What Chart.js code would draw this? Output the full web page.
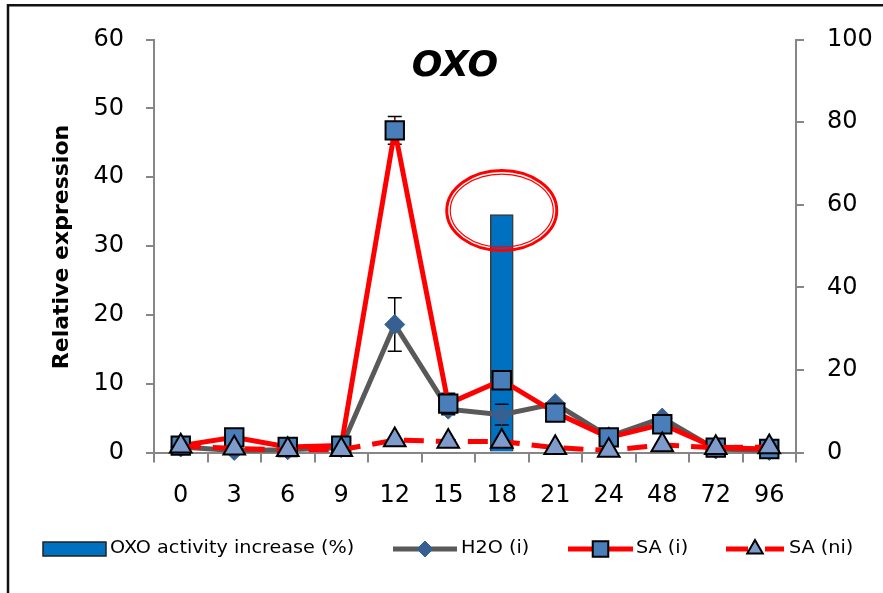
<!DOCTYPE html>
<html>
<head>
<meta charset="utf-8">
<script src="https://cdn.jsdelivr.net/npm/chart.js@4.4.1/dist/chart.umd.min.js"></script>
<style>
  html, body { margin: 0; padding: 0; background: #fff; }
  #wrap { width: 883px; height: 593px; }
</style>
</head>
<body>
<div id="wrap"><canvas id="chart" width="883" height="593"></canvas></div>
<script>
// values
var hours = ['0', '3', '6', '9', '12', '15', '18', '21', '24', '48', '72', '96'];
var oxoActivity = [null, null, null, null, null, null, 57.6, null, null, null, null, null];
var h2o = [0.8, 0.3, 0.4, 0.7, 18.6, 6.3, 5.5, 7.1, 2.3, 5.0, 0.5, 0.3];
var h2oErr = [0, 0, 0, 0, 3.9, 0.8, 1.5, 0, 0, 0, 0, 0];
var sa = [1.0, 2.2, 0.8, 1.0, 46.8, 7.1, 10.5, 5.8, 2.2, 4.1, 0.7, 0.5];
var saErr = [0, 0, 0, 0, 2.0, 1.5, 0, 0, 0, 0, 0, 0];
var saNi = [0.9, 0.6, 0.4, 0.4, 1.8, 1.6, 1.6, 0.7, 0.3, 1.1, 0.7, 0.8];
var leftTicks = [0, 10, 20, 30, 40, 50, 60];
var rightTicks = [0, 20, 40, 60, 80, 100];
var seriesNames = ['OXO activity increase (%)', 'H2O (i)', 'SA (i)', 'SA (ni)'];

var FONT = 'DejaVu Sans';
var AXIS = '#868686';

function drawErrors(chart, values, errs) {
  var ctx = chart.ctx, x = chart.scales.x, y = chart.scales.y;
  ctx.save();
  ctx.strokeStyle = '#000';
  ctx.lineWidth = 1.5;
  values.forEach(function (v, i) {
    if (!errs[i]) return;
    var px = x.getPixelForValue(i);
    var top = y.getPixelForValue(v + errs[i]);
    var bot = y.getPixelForValue(v - errs[i]);
    ctx.beginPath();
    ctx.moveTo(px, top); ctx.lineTo(px, bot);
    ctx.moveTo(px - 7, top); ctx.lineTo(px + 7, top);
    ctx.moveTo(px - 7, bot); ctx.lineTo(px + 7, bot);
    ctx.stroke();
  });
  ctx.restore();
}

// legend text is a little wider than the font, like the original
function wideText(ctx, text, x, y, stretch) {
  ctx.save();
  ctx.translate(x, y);
  ctx.scale(stretch, 1);
  ctx.fillText(text, 0, 0);
  ctx.restore();
}

var decorations = {
  id: 'decorations',
  beforeDraw: function (chart) {
    var ctx = chart.ctx;
    ctx.save();
    ctx.strokeStyle = '#111';
    ctx.lineWidth = 2.5;
    ctx.beginPath();
    ctx.moveTo(8, 593); ctx.lineTo(8, 5.3); ctx.lineTo(883, 5.3);
    ctx.stroke();
    ctx.restore();
  },
  beforeDatasetDraw: function (chart, args) {
    if (args.index === 1) drawErrors(chart, h2o, h2oErr);
    if (args.index === 2) drawErrors(chart, sa, saErr);
  },
  afterDraw: function (chart) {
    var ctx = chart.ctx;
    var x = chart.scales.x, y1 = chart.scales.y1;
    ctx.save();

    // title
    ctx.fillStyle = '#000';
    ctx.textAlign = 'center';
    ctx.textBaseline = 'middle';
    ctx.font = 'italic bold 36px "' + FONT + '"';
    ctx.fillText('OXO', 455, 67);

    // y axis title
    ctx.save();
    ctx.translate(62, 247);
    ctx.rotate(-Math.PI / 2);
    ctx.font = 'bold 22px "' + FONT + '"';
    ctx.fillText('Relative expression', 0, 0);
    ctx.restore();

    // red double ellipse around the bar top
    oxoActivity.forEach(function (v, i) {
      if (v === null) return;
      var cx = x.getPixelForValue(i), cy = y1.getPixelForValue(v) - 4;
      ctx.strokeStyle = '#ff0000';
      ctx.lineWidth = 3;
      ctx.beginPath();
      ctx.ellipse(cx, cy, 55, 40, 0, 0, Math.PI * 2);
      ctx.stroke();
      ctx.lineWidth = 1.2;
      ctx.beginPath();
      ctx.ellipse(cx, cy, 51.5, 36.5, 0, 0, Math.PI * 2);
      ctx.stroke();
    });

    // legend
    var ly = 549;
    var ds = chart.data.datasets;
    ctx.font = '17px "' + FONT + '"';
    ctx.textAlign = 'left';
    ctx.fillStyle = '#0070C0';
    ctx.strokeStyle = '#222';
    ctx.lineWidth = 1.5;
    ctx.fillRect(43, ly - 7, 63, 14);
    ctx.strokeRect(43, ly - 7, 63, 14);
    ctx.fillStyle = '#000';
    wideText(ctx, seriesNames[0], 110, ly, 1.13);

    var items = [[393, 457, 461], [568, 633, 636], [726, 784, 789]];
    items.forEach(function (it, k) {
      var d = ds[k + 1];
      ctx.save();
      ctx.strokeStyle = d.borderColor;
      ctx.lineWidth = 5;
      if (d.borderDash) ctx.setLineDash([22, 17]);
      ctx.beginPath();
      ctx.moveTo(it[0], ly); ctx.lineTo(it[1], ly);
      ctx.stroke();
      ctx.restore();
      ctx.fillStyle = d.pointBackgroundColor;
      ctx.strokeStyle = d.pointBorderColor;
      ctx.lineWidth = d.pointBorderWidth;
      Chart.helpers.drawPoint(ctx, {
        pointStyle: d.pointStyle,
        radius: k === 0 ? 8 : (k === 1 ? 11 : 9),
        borderWidth: d.pointBorderWidth,
        rotation: 0
      }, (it[0] + it[1]) / 2, ly);
      ctx.fillStyle = '#000';
      wideText(ctx, seriesNames[k + 1], it[2], ly, 1.13);
    });

    ctx.restore();
  }
};

var tickFont = { family: FONT, size: 24 };

new Chart(document.getElementById('chart'), {
  type: 'bar',
  data: {
    labels: hours,
    datasets: [{
      label: seriesNames[0],
      data: oxoActivity,
      yAxisID: 'y1',
      backgroundColor: '#0070C0',
      borderColor: '#3a3a3a',
      borderWidth: 1.5,
      barThickness: 23,
      order: 4
    }, {
      label: seriesNames[1],
      type: 'line',
      data: h2o,
      yAxisID: 'y',
      borderColor: '#595959',
      borderWidth: 5,
      pointStyle: 'rectRot',
      pointRadius: 10,
      pointBackgroundColor: '#376092',
      pointBorderColor: '#376092',
      pointBorderWidth: 1,
      tension: 0,
      clip: false,
      order: 3
    }, {
      label: seriesNames[2],
      type: 'line',
      data: sa,
      yAxisID: 'y',
      borderColor: '#ff0000',
      borderWidth: 5,
      pointStyle: 'rect',
      pointRadius: 13,
      pointBackgroundColor: '#4a7ebb',
      pointBorderColor: '#000',
      pointBorderWidth: 2,
      tension: 0,
      clip: false,
      order: 2
    }, {
      label: seriesNames[3],
      type: 'line',
      data: saNi,
      yAxisID: 'y',
      borderColor: '#ff0000',
      borderWidth: 5,
      borderDash: [20, 12],
      pointStyle: 'triangle',
      pointRadius: 12.5,
      pointBackgroundColor: '#7e9bcb',
      pointBorderColor: '#000',
      pointBorderWidth: 2,
      tension: 0,
      clip: false,
      order: 1
    }]
  },
  options: {
    responsive: false,
    animation: false,
    layout: { padding: { top: 39.5, left: 0, right: 0, bottom: 0 } },
    plugins: {
      legend: { display: false },
      tooltip: { enabled: false }
    },
    scales: {
      x: {
        offset: true,
        grid: { offset: true, drawOnChartArea: false, tickLength: 10, color: AXIS, lineWidth: 2 },
        border: { color: AXIS, width: 2 },
        ticks: { color: '#000', font: tickFont, padding: 19, maxRotation: 0 },
        afterFit: function (s) { s.height = 140.5; }
      },
      y: {
        position: 'left',
        min: 0,
        max: 60,
        afterBuildTicks: function (s) { s.ticks = leftTicks.map(function (v) { return { value: v }; }); },
        grid: { drawOnChartArea: false, tickLength: 8, color: AXIS, lineWidth: 2 },
        border: { color: AXIS, width: 2 },
        ticks: { color: '#000', font: tickFont, padding: 22 },
        afterFit: function (s) { s.width = 154; }
      },
      y1: {
        position: 'right',
        min: 0,
        max: 100,
        afterBuildTicks: function (s) { s.ticks = rightTicks.map(function (v) { return { value: v }; }); },
        grid: { drawOnChartArea: false, tickLength: 8, color: AXIS, lineWidth: 2 },
        border: { color: AXIS, width: 2 },
        ticks: { color: '#000', font: tickFont, padding: 23 },
        afterFit: function (s) { s.width = 87; }
      }
    }
  },
  plugins: [decorations]
});
</script>
</body>
</html>
